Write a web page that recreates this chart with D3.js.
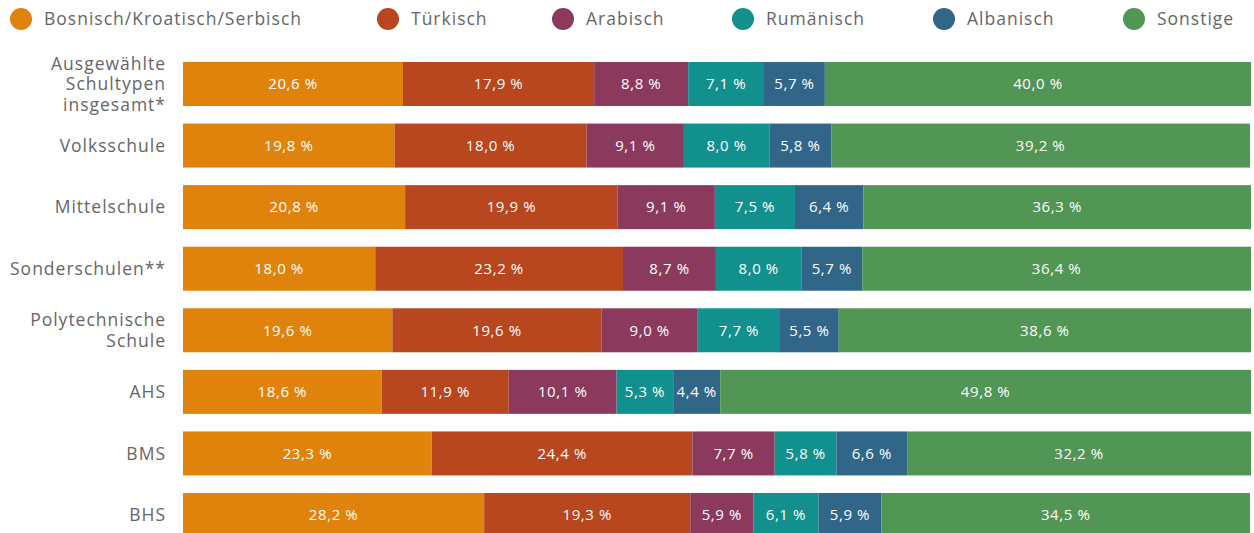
<!DOCTYPE html>
<html>
<head>
<meta charset="utf-8">
<script src="https://cdn.jsdelivr.net/npm/d3@7"></script>
<style>
  body { margin: 0; background: #fff; }
  text { font-family: "Open Sans", sans-serif; }
</style>
</head>
<body>
<div id="chart"></div>
<script>
// Daten
var categories = [
  ["Ausgewählte", "Schultypen", "insgesamt*"],
  ["Volksschule"],
  ["Mittelschule"],
  ["Sonderschulen**"],
  ["Polytechnische", "Schule"],
  ["AHS"],
  ["BMS"],
  ["BHS"]
];
var languages = ["Bosnisch/Kroatisch/Serbisch", "Türkisch", "Arabisch", "Rumänisch", "Albanisch", "Sonstige"];
var colors = ["#e0830d", "#b8461e", "#8b3a5e", "#12908d", "#316689", "#519654"];

var bks      = [20.6, 19.8, 20.8, 18.0, 19.6, 18.6, 23.3, 28.2];
var tuerk    = [17.9, 18.0, 19.9, 23.2, 19.6, 11.9, 24.4, 19.3];
var arab     = [8.8, 9.1, 9.1, 8.7, 9.0, 10.1, 7.7, 5.9];
var rumaen   = [7.1, 8.0, 7.5, 8.0, 7.7, 5.3, 5.8, 6.1];
var alban    = [5.7, 5.8, 6.4, 5.7, 5.5, 4.4, 6.6, 5.9];
var sonstige = [40.0, 39.2, 36.3, 36.4, 38.6, 49.8, 32.2, 34.5];
var series = [bks, tuerk, arab, rumaen, alban, sonstige];

var width = 1254, height = 533;
var margin = { top: 62, left: 183, right: 3 };

var svg = d3.select("#chart")
  .append("svg")
  .attr("width", width)
  .attr("height", height);

var x = d3.scaleLinear()
  .domain([0, 100])
  .range([margin.left, width - margin.right]);

var y = d3.scaleBand()
  .domain(d3.range(categories.length))
  .range([margin.top, 537])
  .paddingInner(0.2855)
  .paddingOuter(0);

// Stapel berechnen
var rows = categories.map(function(c, i) {
  var acc = 0;
  return series.map(function(s, k) {
    var seg = { row: i, k: k, v: s[i], x0: acc, x1: acc + s[i] };
    acc += s[i];
    return seg;
  });
});
var segs = [].concat.apply([], rows);

var g = svg.append("g");

g.selectAll("rect")
  .data(segs)
  .enter().append("rect")
  .attr("x", function(d) { return x(d.x0); })
  .attr("width", function(d) { return Math.min(x(d.x1), width - margin.right) - x(d.x0); })
  .attr("y", function(d) { return y(d.row); })
  .attr("height", y.bandwidth())
  .attr("fill", function(d) { return colors[d.k]; });

g.selectAll("text.val")
  .data(segs)
  .enter().append("text")
  .attr("class", "val")
  .attr("x", function(d) { return (x(d.x0) + Math.min(x(d.x1), width - margin.right)) / 2; })
  .attr("y", function(d) { return y(d.row) + y.bandwidth() / 2; })
  .attr("dy", "0.35em")
  .attr("text-anchor", "middle")
  .style("font-size", "15px")
  .style("letter-spacing", "0.6px")
  .style("fill", "#fff")
  .text(function(d) { return d.v.toFixed(1).replace(".", ",") + " %"; });

// Kategorien
var labels = svg.selectAll("text.cat")
  .data(categories)
  .enter().append("text")
  .attr("class", "cat")
  .attr("text-anchor", "end")
  .style("font-size", "17.5px")
  .style("letter-spacing", "1px")
  .style("fill", "#666");

labels.each(function(lines, i) {
  var t = d3.select(this);
  var cy = y(i) + y.bandwidth() / 2;
  var lh = 20.5;
  lines.forEach(function(line, j) {
    t.append("tspan")
      .attr("x", 166)
      .attr("y", cy + (j - (lines.length - 1) / 2) * lh)
      .attr("dy", "0.35em")
      .text(line);
  });
});

// Legende
var legendX = [21, 388, 563, 743, 944, 1134];
var legend = svg.selectAll("g.legend")
  .data(languages)
  .enter().append("g")
  .attr("class", "legend")
  .attr("transform", function(d, i) { return "translate(" + legendX[i] + ",19)"; });

legend.append("circle")
  .attr("r", 11)
  .attr("fill", function(d, i) { return colors[i]; });

legend.append("text")
  .attr("x", 23)
  .attr("dy", "0.35em")
  .style("font-size", "17.5px")
  .style("letter-spacing", "1px")
  .style("fill", "#666")
  .text(function(d) { return d; });
</script>
</body>
</html>
